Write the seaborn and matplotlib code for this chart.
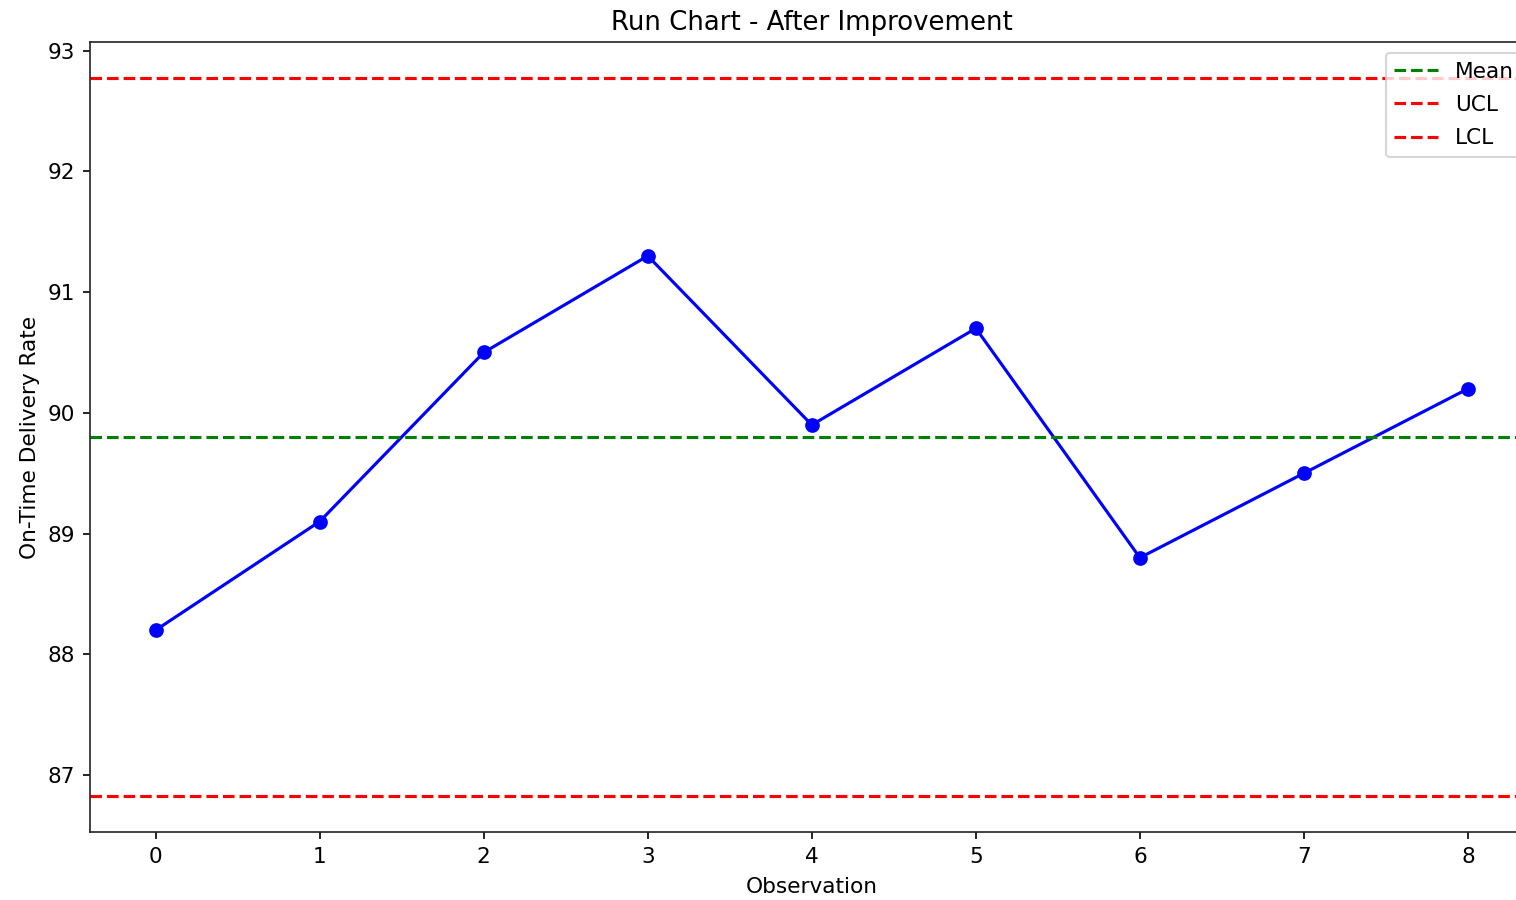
import matplotlib
matplotlib.use("Agg")
import matplotlib.pyplot as plt
import seaborn as sns
import pandas as pd

observations = [0, 1, 2, 3, 4, 5, 6, 7, 8]
delivery_rate = [88.2, 89.1, 90.5, 91.3, 89.9, 90.7, 88.8, 89.5, 90.2]
mean_value = 89.8
ucl_value = 92.774
lcl_value = 86.826

df = pd.DataFrame({"Observation": observations, "On-Time Delivery Rate": delivery_rate})

plt.rcParams['font.family'] = ['DejaVu Sans']
plt.rcParams['font.size'] = 10.4
plt.rcParams['axes.titlesize'] = 12.5
plt.rcParams['axes.labelsize'] = 10.4
plt.rcParams['xtick.labelsize'] = 10.4
plt.rcParams['ytick.labelsize'] = 10.4
plt.rcParams['legend.fontsize'] = 10.4
plt.rcParams['axes.edgecolor'] = '#222222'

fig = plt.figure(figsize=(1516 / 150, 900 / 150), dpi=150)
ax = fig.add_axes([90 / 1516, 1 - 832 / 900, (1533.6 - 90) / 1516, (832 - 42) / 900])

sns.lineplot(data=df, x="Observation", y="On-Time Delivery Rate", marker="o",
             color="blue", markeredgecolor="blue", markersize=6.3, linewidth=1.5, ax=ax)
ax.axhline(mean_value, color="green", linestyle="--", label="Mean")
ax.axhline(ucl_value, color="red", linestyle="--", label="UCL")
ax.axhline(lcl_value, color="red", linestyle="--", label="LCL")

ax.set_title("Run Chart - After Improvement")
ax.set_xlabel("Observation", labelpad=5)
ax.set_ylabel("On-Time Delivery Rate")
ax.legend(loc="upper right", labelspacing=0.62)

fig.savefig("out.png", dpi=150)
